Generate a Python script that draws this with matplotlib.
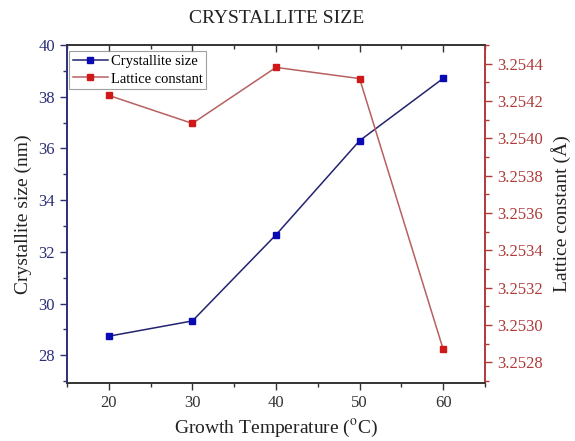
import matplotlib
matplotlib.use("Agg")
import matplotlib.pyplot as plt
from matplotlib.ticker import MultipleLocator, FormatStrFormatter

plt.rcParams['font.family'] = ['Liberation Serif', 'DejaVu Serif']
plt.rcParams['mathtext.fontset'] = 'stix'

temperature = [20, 30, 40, 50, 60]
crystallite_size = [28.74, 29.33, 32.66, 36.30, 38.71]
lattice_constant = [3.25423, 3.25408, 3.25438, 3.25432, 3.25287]

title = "CRYSTALLITE SIZE"
xlabel = "Growth Temperature ($^{\\mathrm{o}}$C)"
ylabel_left = "Crystallite size (nm)"
ylabel_right = "Lattice constant (Å)"
label_size = "Crystallite size"
label_lattice = "Lattice constant"

navy = "#2b2f78"
blue_marker = "#0a0ab4"
blue_line = "#23236e"
red_axis = "#b03a3a"
red_marker = "#d01818"
red_line = "#b86060"

fig = plt.figure(figsize=(5.75, 4.41), dpi=100)
ax = fig.add_axes([0.1165, 0.1315, 0.727, 0.7665])
ax2 = ax.twinx()

l1, = ax.plot(temperature, crystallite_size, color=blue_line, lw=1.1,
              marker="s", ms=4.6, mfc=blue_marker, mec=blue_marker,
              label=label_size, zorder=3)
l2, = ax2.plot(temperature, lattice_constant, color=red_line, lw=1.1,
               marker="s", ms=4.6, mfc=red_marker, mec=red_marker,
               label=label_lattice, zorder=3)

ax.set_xlim(15, 65)
ax.set_ylim(26.93, 40)
ax2.set_ylim(3.25269, 3.2545)

ax.xaxis.set_major_locator(MultipleLocator(10))
ax.xaxis.set_minor_locator(MultipleLocator(5))
ax.yaxis.set_major_locator(MultipleLocator(2))
ax.yaxis.set_minor_locator(MultipleLocator(1))
ax2.yaxis.set_major_locator(MultipleLocator(0.0002))
ax2.yaxis.set_minor_locator(MultipleLocator(0.0001))
ax2.yaxis.set_major_formatter(FormatStrFormatter("%.4f"))

ax.tick_params(axis="x", which="both", direction="out", top=False,
               labelsize=12, colors="#333333", labelcolor="#333333", width=1)
ax.tick_params(axis="x", which="major", length=5)
ax.tick_params(axis="x", which="minor", length=3)
ax.tick_params(axis="y", which="both", direction="out", colors=navy,
               labelsize=12, labelcolor=navy, width=1)
ax.tick_params(axis="y", which="major", length=5)
ax.tick_params(axis="y", which="minor", length=3)
ax2.tick_params(axis="y", which="both", direction="out", colors=red_axis,
                labelsize=12, labelcolor=red_axis, width=1)
ax2.tick_params(axis="y", which="major", length=5)
ax2.tick_params(axis="y", which="minor", length=3)

# top ticks on a secondary x axis, pointing into the plot
top = ax.secondary_xaxis("top")
top.xaxis.set_major_locator(MultipleLocator(10))
top.xaxis.set_minor_locator(MultipleLocator(5))
top.tick_params(axis="x", which="both", direction="in", labeltop=False,
                colors="#333333", width=1)
top.tick_params(axis="x", which="major", length=5)
top.tick_params(axis="x", which="minor", length=3)
top.spines["top"].set_visible(False)

for a in (ax, ax2):
    a.spines["left"].set_color(navy)
    a.spines["right"].set_color(red_axis)
    a.spines["top"].set_color("#333333")
    a.spines["bottom"].set_color("#333333")
    for s in a.spines.values():
        s.set_linewidth(1.2)

ax.set_xlabel(xlabel, fontsize=14, color="#222222", labelpad=5)
ax.set_ylabel(ylabel_left, fontsize=14, color="#222222", labelpad=5)
ax2.set_ylabel(ylabel_right, fontsize=14, color="#222222", labelpad=6)
fig.text(0.481, 0.958, title, ha="center", va="center", fontsize=14,
         color="#222222")

leg = ax.legend(handles=[l1, l2], loc="upper left",
                bbox_to_anchor=(0.005, 0.982), fontsize=10.5,
                frameon=True, fancybox=False, edgecolor="#888888",
                borderpad=0.25, handlelength=2.4, handletextpad=0.2,
                labelspacing=0.3, borderaxespad=0.0)
leg.get_frame().set_linewidth(0.8)

fig.savefig("out.png", dpi=100)
